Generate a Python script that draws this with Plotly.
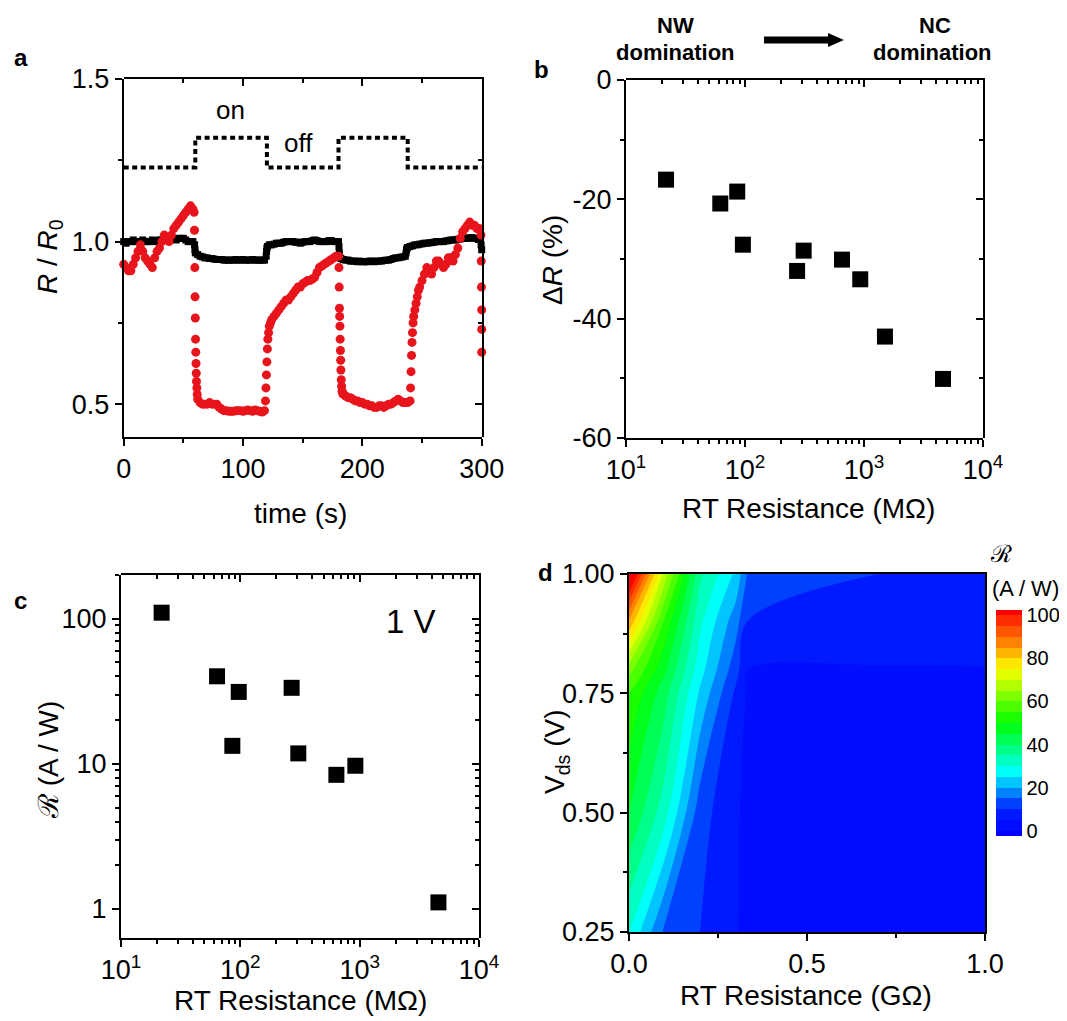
import plotly.graph_objects as go

PAGE_W, PAGE_H = 1067, 1021
OFF = 8  # default body margin of the html page
W, H = PAGE_W - OFF, PAGE_H - OFF
FONT = "Arial, Liberation Sans, sans-serif"

# ---------------- panel a data ----------------
light_t = [0, 60, 60, 120, 120, 180, 180, 238, 238, 300]
light_v = [1.228, 1.228, 1.319, 1.319, 1.228, 1.228, 1.319, 1.319, 1.228, 1.228]

red_t = [0, 2, 4, 6, 8, 10, 12, 14, 16, 18, 20, 22, 24, 26, 28, 30, 32, 34, 36, 38, 40, 42, 44, 46, 48, 50, 52, 54, 56, 58,
         59, 59.3, 59.6, 59.8, 60, 60.2, 60.4, 60.6, 60.8, 61, 61.3, 61.6, 62,
         64, 66, 68, 70, 72, 74, 76, 78, 80, 82, 84, 86, 88, 90, 92, 94, 96, 98, 100, 102, 104, 106, 108, 110, 112, 114, 116, 118,
         118.8, 119.2, 119.6, 120, 120.4, 120.8, 121.4, 122, 123,
         124, 126, 128, 130, 132, 134, 136, 138, 140, 142, 144, 146, 148, 150, 152, 154, 156, 158, 160, 162, 164, 166, 168, 170,
         172, 174, 176, 178, 180,
         180.4, 180.6, 180.8, 181, 181.2, 181.4, 181.6, 181.8, 182, 182.3, 182.6, 183, 183.5,
         184, 186, 188, 190, 192, 194, 196, 198, 200, 202, 204, 206, 208, 210, 212, 214, 216, 218, 220, 222, 224, 226, 228, 230,
         232, 234, 236, 238, 240,
         240.4, 240.8, 241.2, 241.6, 242, 242.5, 243, 244, 245, 246, 247,
         248, 250, 252, 254, 256, 258, 260, 262, 264, 266, 268, 270, 272, 274, 276, 278, 280, 282, 284, 286, 288, 290, 292, 294,
         296, 298,
         299.4, 299.6, 299.8, 300, 300, 300]
red_v = [0.93, 0.92, 0.91, 0.91, 0.93, 0.95, 0.97, 0.99, 0.97, 0.95, 0.94, 0.93, 0.92, 0.95, 0.97, 0.98, 1.00, 1.02, 1.01, 1.00,
         1.02, 1.04, 1.05, 1.06, 1.07, 1.08, 1.09, 1.10, 1.11, 1.10,
         1.09, 1.035, 0.92, 0.83, 0.765, 0.70, 0.66, 0.625, 0.595, 0.57, 0.55, 0.53, 0.515,
         0.505, 0.50, 0.50, 0.50, 0.505, 0.50, 0.50, 0.50, 0.49, 0.485, 0.48, 0.48, 0.478, 0.478, 0.478, 0.48, 0.48, 0.48, 0.478,
         0.48, 0.482, 0.48, 0.478, 0.482, 0.48, 0.478, 0.476, 0.48,
         0.51, 0.55, 0.59, 0.63, 0.67, 0.70, 0.72, 0.74, 0.75,
         0.76, 0.77, 0.78, 0.79, 0.80, 0.81, 0.82, 0.82, 0.83, 0.84, 0.85, 0.86, 0.86, 0.87, 0.875, 0.88, 0.88, 0.885, 0.89, 0.905,
         0.92, 0.925, 0.93, 0.935, 0.94, 0.945, 0.95, 0.955, 0.955,
         0.92, 0.86, 0.795, 0.77, 0.74, 0.70, 0.665, 0.635, 0.605, 0.575, 0.555, 0.54, 0.533,
         0.53, 0.525, 0.52, 0.52, 0.515, 0.51, 0.51, 0.505, 0.505, 0.50, 0.50, 0.495, 0.495, 0.49, 0.49, 0.495, 0.495, 0.49, 0.495,
         0.50, 0.50, 0.505, 0.51, 0.515, 0.51, 0.505, 0.505, 0.505, 0.51,
         0.55, 0.60, 0.65, 0.69, 0.72, 0.75, 0.77, 0.79, 0.81, 0.83, 0.85,
         0.86, 0.88, 0.90, 0.92, 0.91, 0.90, 0.92, 0.94, 0.94, 0.93, 0.92, 0.93, 0.95, 0.95, 0.94, 0.96, 0.98, 1.01, 1.03, 1.04,
         1.05, 1.06, 1.05, 1.05, 1.04, 1.04,
         1.02, 0.94, 0.86, 0.79, 0.73, 0.66]

black_t = [0, 2, 4, 6, 8, 10, 12, 14, 16, 18, 20, 22, 24, 26, 28, 30, 32, 34, 36, 38, 40, 42, 44, 46, 48, 50, 52, 54, 56, 58,
           59.4, 59.7, 60,
           62, 64, 66, 68, 70, 72, 74, 76, 78, 80, 82, 84, 86, 88, 90, 92, 94, 96, 98, 100, 102, 104, 106, 108, 110, 112, 114,
           116, 118,
           119.4, 119.7, 120, 120.5,
           122, 124, 126, 128, 130, 132, 134, 136, 138, 140, 142, 144, 146, 148, 150, 152, 154, 156, 158, 160, 162, 164, 166,
           168, 170, 172, 174, 176, 178, 180,
           180.4, 180.7, 181,
           182, 184, 186, 188, 190, 192, 194, 196, 198, 200, 202, 204, 206, 208, 210, 212, 214, 216, 218, 220, 222, 224, 226,
           228, 230, 232, 234, 236,
           236.6, 237, 237.5, 238,
           240, 242, 244, 246, 248, 250, 252, 254, 256, 258, 260, 262, 264, 266, 268, 270, 272, 274, 276, 278, 280, 282, 284,
           286, 288, 290, 292, 294, 296, 298,
           299.5, 300]
black_v = [1.0, 0.995, 1.0, 1.0, 1.005, 1.0, 1.0, 1.0, 1.005, 1.0, 1.0, 1.0, 1.005, 1.0, 1.0, 1.005, 1.005, 1.01, 1.005, 1.005,
           1.01, 1.01, 1.005, 1.01, 1.01, 1.01, 1.005, 1.0, 1.0, 1.0,
           0.99, 0.975, 0.965,
           0.96, 0.955, 0.953, 0.95, 0.95, 0.948, 0.948, 0.946, 0.945, 0.945, 0.945, 0.943, 0.943, 0.943, 0.943, 0.943, 0.945,
           0.943, 0.943, 0.945, 0.943, 0.943, 0.943, 0.945, 0.943, 0.943, 0.943, 0.943, 0.943,
           0.955, 0.97, 0.98, 0.985,
           0.99, 0.99, 0.992, 0.995, 0.995, 0.995, 0.998, 1.0, 1.0, 1.0, 1.0, 0.998, 0.998, 0.995, 0.998, 1.0, 1.0, 1.0, 1.003,
           1.005, 1.003, 1.0, 1.0, 1.0, 1.0, 1.003, 1.003, 1.0, 1.0, 1.0,
           0.985, 0.965, 0.952,
           0.948, 0.945, 0.943, 0.943, 0.94, 0.94, 0.94, 0.938, 0.94, 0.938, 0.938, 0.938, 0.94, 0.94, 0.938, 0.94, 0.94, 0.94,
           0.942, 0.943, 0.943, 0.945, 0.948, 0.95, 0.95, 0.952, 0.953, 0.955,
           0.965, 0.975, 0.98, 0.982,
           0.985, 0.987, 0.99, 0.99, 0.992, 0.993, 0.995, 0.995, 0.996, 0.997, 0.998, 1.0, 1.0, 1.0, 1.0, 1.002, 1.003, 1.005,
           1.005, 1.005, 1.007, 1.008, 1.01, 1.01, 1.01, 1.012, 1.012, 1.01, 1.01, 1.01,
           0.99, 0.975]

# ---------------- panel b data ----------------
b_res = [21.7, 62, 86, 96, 274, 311, 653, 930, 1500, 4610]
b_dR = [-16.7, -20.7, -18.7, -27.6, -32.0, -28.6, -30.1, -33.4, -43.0, -50.1]

# ---------------- panel c data ----------------
c_res = [21.9, 63.8, 85.7, 97, 269, 306, 638, 920, 4570]
c_resp = [110, 40.1, 13.3, 31.3, 33.4, 11.8, 8.4, 9.7, 1.11]

# ---------------- panel d data ----------------
d_x = [0, 0.1, 0.2, 0.3, 0.335, 0.7, 1.0]
d_y = [0.25, 0.5, 0.75, 0.8, 0.9, 1.0]
d_z = [
    [30, 14, 10, 5.5, 3, 3, 3],
    [45, 32, 12, 6, 3, 3, 3],
    [55, 42, 24, 9, 4, 4, 4],
    [62, 46, 27, 12, 5, 4.7, 4.85],
    [84, 54, 31, 17, 9.8, 8, 7],
    [110, 68, 36, 24, 14, 10, 8],
]


def X(px):
    return (px - OFF) / W


def Y(py):
    return 1 - (py - OFF) / H


fig = go.Figure()

# panel a
fig.add_trace(go.Scatter(x=light_t, y=light_v, mode="lines", xaxis="x", yaxis="y",
                         line=dict(color="black", width=4, dash="5px,3.5px")))
fig.add_trace(go.Scatter(x=black_t, y=black_v, mode="markers", xaxis="x", yaxis="y",
                         marker=dict(symbol="square", size=7, color="black"), cliponaxis=False))
fig.add_trace(go.Scatter(x=red_t, y=red_v, mode="markers", xaxis="x", yaxis="y",
                         marker=dict(symbol="circle", size=9, color="#e8141c"), cliponaxis=False))
# panel b
fig.add_trace(go.Scatter(x=b_res, y=b_dR, mode="markers", xaxis="x2", yaxis="y2",
                         marker=dict(symbol="square", size=16, color="black")))
# panel c
fig.add_trace(go.Scatter(x=c_res, y=c_resp, mode="markers", xaxis="x3", yaxis="y3",
                         marker=dict(symbol="square", size=16, color="black")))
# panel d
fig.add_trace(go.Contour(
    x=d_x, y=d_y, z=d_z, xaxis="x4", yaxis="y4",
    colorscale=[[0, "#0000ff"], [0.12, "#0020ff"], [0.28, "#00ffff"], [0.5, "#00ff00"],
                [0.74, "#ffff00"], [0.86, "#ff8000"], [1, "#ff0000"]],
    contours=dict(start=0, end=100, size=5, coloring="fill", showlines=False),
    line=dict(width=0),
    colorbar=dict(x=X(996), xanchor="left", y=Y(723), yanchor="middle",
                  len=226 / H, lenmode="fraction", thickness=26, thicknessmode="pixels",
                  outlinewidth=0, ticks="", tickvals=[0, 20, 40, 60, 80, 100],
                  tickfont=dict(size=20, color="black", family=FONT), xpad=0, ypad=0),
))

# empty traces to anchor mirror axes
for xa, ya in [("x5", "y5"), ("x6", "y6"), ("x7", "y7")]:
    fig.add_trace(go.Scatter(x=[], y=[], xaxis=xa, yaxis=ya, showlegend=False))

TICKF = dict(size=27, color="black", family=FONT)


def base_axis(**kw):
    d = dict(showline=True, linecolor="black", linewidth=2, ticks="outside", ticklen=7, tickwidth=2,
             tickcolor="black", showgrid=False, zeroline=False, tickfont=TICKF, fixedrange=True,
             automargin=False)
    d.update(kw)
    return d


def mirror_axis(**kw):
    d = dict(showline=True, linecolor="black", linewidth=2, ticks="inside", ticklen=7, tickwidth=2,
             tickcolor="black", showgrid=False, zeroline=False, showticklabels=False, fixedrange=True,
             automargin=False)
    d.update(kw)
    return d


log_minor = [m * 10 ** k for k in range(1, 4) for m in range(2, 10)]
c_minor_y = [m * 10 ** k for k in range(0, 3) for m in range(2, 10)]

# domains
ax_a = [X(123.7), X(481.7)]
ay_a = [Y(436.7), Y(79)]
ax_b = [X(626), X(983)]
ay_b = [Y(438), Y(80)]
ax_c = [X(121), X(479)]
ay_c = [Y(938), Y(575)]
ax_d = [X(629), X(985)]
ay_d = [Y(932), Y(574)]

xa_a = dict(domain=ax_a, range=[0, 300], tickvals=[0, 100, 200, 300])
ya_a = dict(domain=ay_a, range=[0.4, 1.5], tickvals=[0.5, 1.0, 1.5], ticktext=["0.5", "1.0", "1.5"])
xa_b = dict(domain=ax_b, type="log", range=[1, 4], tickvals=[10, 100, 1000, 10000],
            ticktext=["10<sup>1</sup>", "10<sup>2</sup>", "10<sup>3</sup>", "10<sup>4</sup>"])
ya_b = dict(domain=ay_b, range=[-60, 0], tickvals=[0, -20, -40, -60], ticktext=["0", "-20", "-40", "-60"])
xa_c = dict(domain=ax_c, type="log", range=[1, 4], tickvals=[10, 100, 1000, 10000],
            ticktext=["10<sup>1</sup>", "10<sup>2</sup>", "10<sup>3</sup>", "10<sup>4</sup>"])
ya_c = dict(domain=ay_c, type="log", range=[-0.2, 2.301], tickvals=[1, 10, 100], ticktext=["1", "10", "100"])

mi = lambda vals, side="outside": dict(tickvals=vals, ticks=side, ticklen=4, tickwidth=2, tickcolor="black")

fig.update_layout(
    width=W, height=H, margin=dict(l=0, r=0, t=0, b=0, autoexpand=False), paper_bgcolor="white",
    plot_bgcolor="rgba(0,0,0,0)",
    showlegend=False, font=dict(family=FONT, color="black"),
    xaxis=base_axis(anchor="y", minor=mi([50, 150, 250]), **xa_a),
    yaxis=base_axis(anchor="x", minor=mi([0.75, 1.25]), **ya_a),
    xaxis5=mirror_axis(anchor="y5", side="top", minor=mi([50, 150, 250], "inside"), **xa_a),
    yaxis5=mirror_axis(anchor="x5", side="right", minor=mi([0.75, 1.25], "inside"), **ya_a),
    xaxis2=base_axis(anchor="y2", minor=mi(log_minor), **xa_b),
    yaxis2=base_axis(anchor="x2", minor=mi([-10, -30, -50]), **ya_b),
    xaxis6=mirror_axis(anchor="y6", side="top", minor=mi(log_minor, "inside"), **xa_b),
    yaxis6=mirror_axis(anchor="x6", side="right", minor=mi([-10, -30, -50], "inside"), **ya_b),
    xaxis3=base_axis(anchor="y3", minor=mi(log_minor), **xa_c),
    yaxis3=base_axis(anchor="x3", minor=mi(c_minor_y), **ya_c),
    xaxis7=mirror_axis(anchor="y7", side="top", minor=mi(log_minor, "inside"), **xa_c),
    yaxis7=mirror_axis(anchor="x7", side="right", minor=mi(c_minor_y, "inside"), **ya_c),
    xaxis4=base_axis(anchor="y4", domain=ax_d, range=[0, 1], tickvals=[0, 0.5, 1.0], ticktext=["0.0", "0.5", "1.0"],
                     minor=mi([0.25, 0.75]), mirror=True),
    yaxis4=base_axis(anchor="x4", domain=ay_d, range=[0.25, 1.0], tickvals=[0.25, 0.5, 0.75, 1.0],
                     ticktext=["0.25", "0.50", "0.75", "1.00"], minor=mi([0.375, 0.625, 0.875]), mirror=True),
)


def ann(text, px, py, size=28, bold=False, angle=0, xanchor="center"):
    if bold:
        text = "<b>" + text + "</b>"
    fig.add_annotation(text=text, x=X(px), y=Y(py), xref="paper", yref="paper", showarrow=False,
                       xanchor=xanchor, yanchor="middle", textangle=angle,
                       font=dict(size=size, color="black", family=FONT))


# axis titles
ann("time (s)", 300, 513)
ann("<i>R</i> / <i>R</i><sub>0</sub>", 50, 257, angle=-90)
ann("RT Resistance (MΩ)", 808, 508)
ann("Δ<i>R</i> (%)", 553, 260, angle=-90)
ann("RT Resistance (MΩ)", 300, 1000)
ann("ℛ (A / W)", 48, 760, angle=-90)
ann("RT Resistance (GΩ)", 806, 995)
ann("V<sub>ds</sub> (V)", 556, 752, angle=-90)

# panel labels
ann("a", 21, 57, size=24, bold=True)
ann("b", 541, 70, size=24, bold=True)
ann("c", 20, 600, size=24, bold=True)
ann("d", 545, 572, size=24, bold=True)

# in-plot texts
ann("on", 230, 110, size=26)
ann("off", 298, 143, size=26)
ann("1 V", 411, 621, size=33)

# header of panel b
ann("NW", 675, 25, size=22, bold=True)
ann("domination", 675, 53, size=22, bold=True)
ann("NC", 935, 25, size=22, bold=True)
ann("domination", 932, 53, size=22, bold=True)

# colorbar title
ann("ℛ", 1001, 553, size=24)
ann("(A / W)", 1026, 588, size=22)

# arrow (NW -> NC)
pts = [(764, 36.5), (828, 36.5), (828, 33), (844, 40), (828, 47), (828, 43.5), (764, 43.5)]
path = "M " + " L ".join(f"{X(a):.5f},{Y(b):.5f}" for a, b in pts) + " Z"
fig.add_shape(type="path", path=path, xref="paper", yref="paper", fillcolor="black", line=dict(width=0))

fig.write_html("out.html")
